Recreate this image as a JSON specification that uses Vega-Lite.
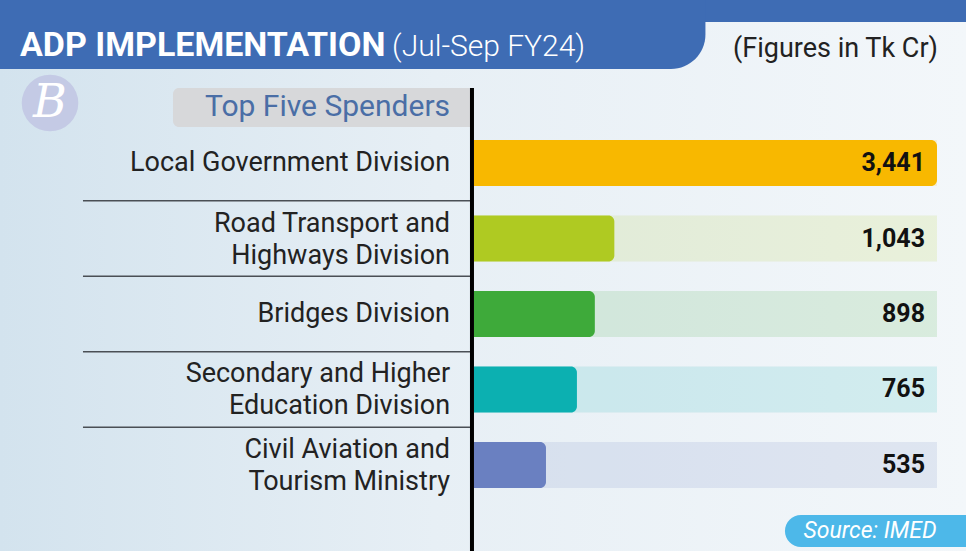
{
  "$schema": "https://vega.github.io/schema/vega-lite/v6.json",
  "width": 966,
  "height": 551,
  "padding": 0,
  "autosize": "none",
  "config": {"view": {"stroke": null}, "axis": {"disable": true}},
  "datasets": {
    "rows": [
      {"name": "Local Government Division", "label": "Local Government Division", "lines": 1, "value": 3441, "rank": 1},
      {"name": "Road Transport and Highways Division", "label": "Road Transport and\nHighways Division", "lines": 2, "value": 1043, "rank": 2},
      {"name": "Bridges Division", "label": "Bridges Division", "lines": 1, "value": 898, "rank": 3},
      {"name": "Secondary and Higher Education Division", "label": "Secondary and Higher\nEducation Division", "lines": 2, "value": 765, "rank": 4},
      {"name": "Civil Aviation and Tourism Ministry", "label": "Civil Aviation and\nTourism Ministry", "lines": 2, "value": 535, "rank": 5}
    ],
    "one": [{}]
  },
  "layer": [
    {
      "data": {"name": "one"},
      "mark": {"type": "rect", "fill": {"gradient": "linear", "x1": 0, "y1": 0, "x2": 1, "y2": 0, "stops": [{"offset": 0, "color": "#d3e3ee"}, {"offset": 0.45, "color": "#e7eff5"}, {"offset": 1, "color": "#f3f7fa"}]}},
      "encoding": {
        "x": {"datum": -3522.7, "type": "quantitative", "scale": {"domain": [-3522.7, 3656.5], "zero": false, "nice": false, "padding": 0}},
        "x2": {"datum": 3656.5},
        "y": {"datum": -1.16, "type": "quantitative", "scale": {"domain": [-1.16, 6.14], "zero": false, "nice": false, "reverse": true, "padding": 0}},
        "y2": {"datum": 6.14}
      }
    },
    {
      "data": {"name": "one"},
      "mark": {"type": "rect", "fill": "#3e6cb4"},
      "encoding": {
        "x": {"datum": -3522.7, "type": "quantitative"},
        "x2": {"datum": 3656.5},
        "y": {"datum": -1.16, "type": "quantitative"},
        "y2": {"datum": -0.8685}
      }
    },
    {
      "data": {"name": "one"},
      "mark": {"type": "rect", "fill": "#3e6cb4", "cornerRadiusBottomRight": 38},
      "encoding": {
        "x": {"datum": -3522.7, "type": "quantitative"},
        "x2": {"datum": 1720},
        "y": {"datum": -1.16, "type": "quantitative"},
        "y2": {"datum": -0.2458}
      }
    },
    {
      "data": {"name": "one"},
      "mark": {"type": "text", "text": "ADP IMPLEMENTATION", "font": "Roboto", "fontWeight": "bold", "fontSize": 34, "fill": "white", "align": "left", "baseline": "alphabetic"},
      "encoding": {
        "x": {"datum": -3374, "type": "quantitative"},
        "y": {"datum": -0.418, "type": "quantitative"}
      }
    },
    {
      "data": {"name": "one"},
      "mark": {"type": "text", "text": "(Jul-Sep FY24)", "font": "Roboto", "fontWeight": 300, "fontSize": 30, "fill": "white", "align": "left", "baseline": "alphabetic"},
      "encoding": {
        "x": {"datum": -609, "type": "quantitative"},
        "y": {"datum": -0.418, "type": "quantitative"}
      }
    },
    {
      "data": {"name": "one"},
      "mark": {"type": "text", "text": "(Figures in Tk Cr)", "font": "Roboto", "fontSize": 27, "fill": "#222222", "align": "right", "baseline": "alphabetic"},
      "encoding": {
        "x": {"datum": 3448, "type": "quantitative"},
        "y": {"datum": -0.405, "type": "quantitative"}
      }
    },
    {
      "data": {"name": "one"},
      "mark": {"type": "point", "filled": true, "shape": "circle", "size": 3200, "fill": "#c4cae5", "opacity": 1},
      "encoding": {
        "x": {"datum": -3151, "type": "quantitative"},
        "y": {"datum": 0.2047, "type": "quantitative"}
      }
    },
    {
      "data": {"name": "one"},
      "mark": {"type": "text", "text": "B", "font": "DejaVu Serif", "fontStyle": "italic", "fontSize": 46, "fill": "white", "align": "center", "baseline": "middle"},
      "encoding": {
        "x": {"datum": -3151, "type": "quantitative"},
        "y": {"datum": 0.2047, "type": "quantitative"}
      }
    },
    {
      "data": {"name": "one"},
      "mark": {"type": "rect", "fill": "#d7d8da", "cornerRadiusTopLeft": 6, "cornerRadiusBottomLeft": 6},
      "encoding": {
        "x": {"datum": -2237, "type": "quantitative"},
        "x2": {"datum": -15},
        "y": {"datum": 0.0059, "type": "quantitative"},
        "y2": {"datum": 0.5226}
      }
    },
    {
      "data": {"name": "one"},
      "mark": {"type": "text", "text": "Top Five Spenders", "font": "Roboto", "fontSize": 30, "fill": "#4a6ea6", "align": "right", "baseline": "middle"},
      "encoding": {
        "x": {"datum": -178, "type": "quantitative"},
        "y": {"datum": 0.2576, "type": "quantitative"}
      }
    },
    {
      "data": {"name": "rows"},
      "transform": [{"filter": "datum.rank < 5"}],
      "mark": {"type": "rule", "stroke": "#4a4f55", "strokeWidth": 1.5, "yOffset": 37.7},
      "encoding": {
        "x": {"datum": -2906, "type": "quantitative"},
        "x2": {"datum": -15},
        "y": {"field": "rank", "type": "quantitative"}
      }
    },
    {
      "data": {"name": "rows"},
      "mark": {"type": "bar", "orient": "horizontal", "height": 46, "opacity": 0.14},
      "encoding": {
        "x": {"datum": 0, "type": "quantitative"},
        "x2": {"datum": 3441},
        "y": {"field": "rank", "type": "quantitative"},
        "color": {"field": "name", "type": "nominal", "legend": null, "scale": {"domain": ["Local Government Division", "Road Transport and Highways Division", "Bridges Division", "Secondary and Higher Education Division", "Civil Aviation and Tourism Ministry"], "range": ["#f8b800", "#afca22", "#3eaa3a", "#0cb0b1", "#6a80c1"]}}
      }
    },
    {
      "data": {"name": "rows"},
      "mark": {"type": "bar", "orient": "horizontal", "height": 46, "cornerRadiusTopRight": 6, "cornerRadiusBottomRight": 6},
      "encoding": {
        "x": {"field": "value", "type": "quantitative"},
        "x2": {"datum": 0},
        "y": {"field": "rank", "type": "quantitative"},
        "color": {"field": "name", "type": "nominal", "legend": null}
      }
    },
    {
      "data": {"name": "rows"},
      "mark": {"type": "text", "font": "Roboto", "fontWeight": "bold", "fontSize": 25, "fill": "#111111", "align": "right", "baseline": "middle", "dx": -12},
      "encoding": {
        "x": {"datum": 3441, "type": "quantitative"},
        "y": {"field": "rank", "type": "quantitative"},
        "text": {"field": "value", "type": "quantitative", "format": ","}
      }
    },
    {
      "data": {"name": "rows"},
      "transform": [{"filter": "datum.lines == 1"}],
      "mark": {"type": "text", "font": "Roboto", "fontSize": 27, "fill": "#222222", "align": "right", "baseline": "middle"},
      "encoding": {
        "x": {"datum": -178, "type": "quantitative"},
        "y": {"field": "rank", "type": "quantitative"},
        "text": {"field": "label", "type": "nominal"}
      }
    },
    {
      "data": {"name": "rows"},
      "transform": [{"filter": "datum.lines == 2"}],
      "mark": {"type": "text", "font": "Roboto", "fontSize": 27, "fill": "#222222", "align": "right", "baseline": "middle", "lineBreak": "\n", "lineHeight": 32, "dy": -15},
      "encoding": {
        "x": {"datum": -178, "type": "quantitative"},
        "y": {"field": "rank", "type": "quantitative"},
        "text": {"field": "label", "type": "nominal"}
      }
    },
    {
      "data": {"name": "one"},
      "mark": {"type": "rule", "stroke": "#000000", "strokeWidth": 4},
      "encoding": {
        "x": {"datum": -15, "type": "quantitative"},
        "y": {"datum": 0.0059, "type": "quantitative"},
        "y2": {"datum": 6.14}
      }
    },
    {
      "data": {"name": "one"},
      "mark": {"type": "rect", "fill": "#4db8e9", "cornerRadiusTopLeft": 16, "cornerRadiusBottomLeft": 16},
      "encoding": {
        "x": {"datum": 2311, "type": "quantitative"},
        "x2": {"datum": 3656.5},
        "y": {"datum": 5.663, "type": "quantitative"},
        "y2": {"datum": 6.087}
      }
    },
    {
      "data": {"name": "one"},
      "mark": {"type": "text", "text": "Source: IMED", "font": "Roboto", "fontStyle": "italic", "fontSize": 23, "fill": "white", "align": "center", "baseline": "middle"},
      "encoding": {
        "x": {"datum": 2943, "type": "quantitative"},
        "y": {"datum": 5.875, "type": "quantitative"}
      }
    }
  ]
}
